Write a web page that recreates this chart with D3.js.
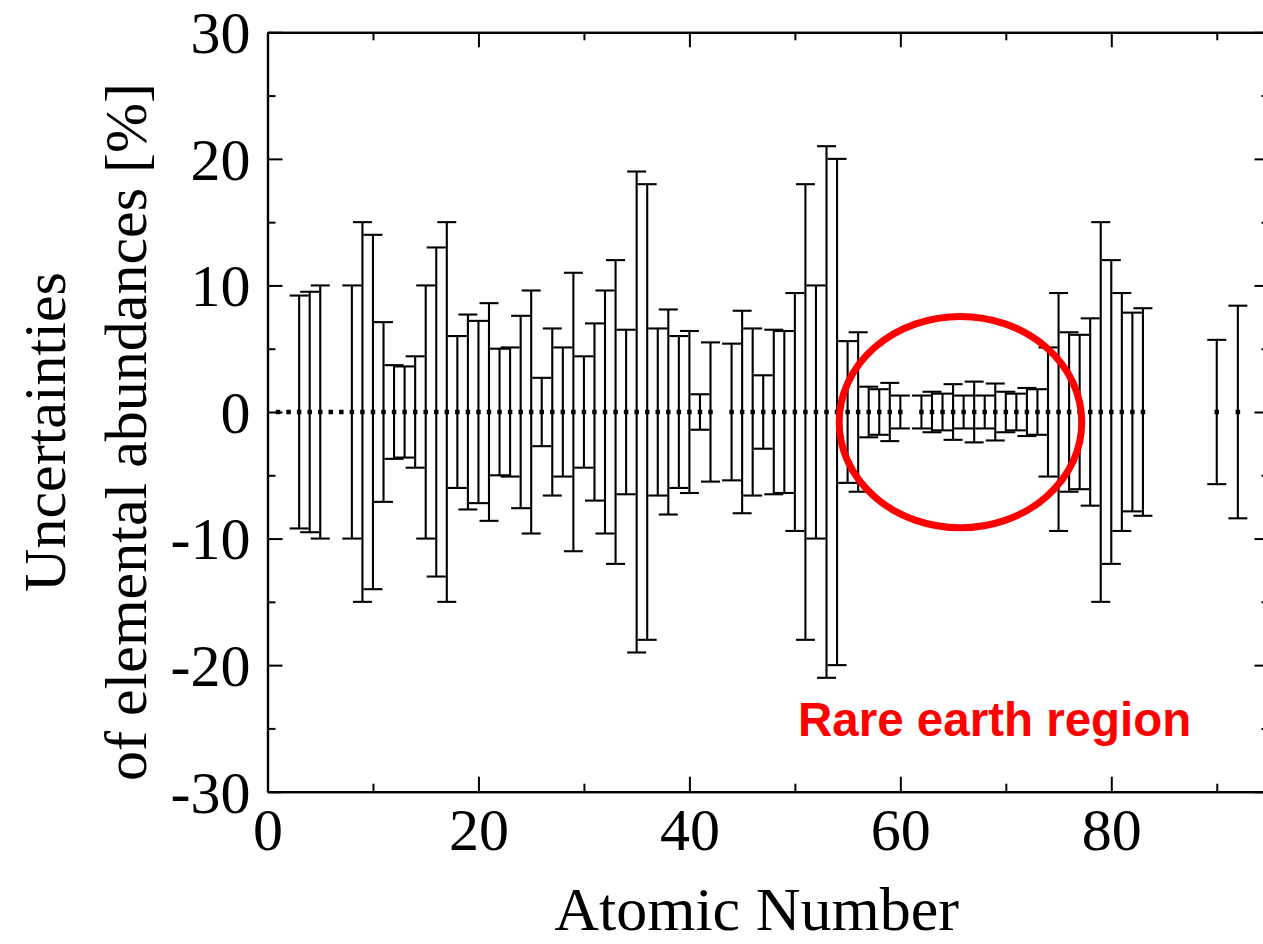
<!DOCTYPE html>
<html>
<head>
<meta charset="utf-8">
<script src="https://cdn.jsdelivr.net/npm/d3@7"></script>
<style>
  html, body { margin: 0; padding: 0; background: #fff; }
  svg { display: block; }
</style>
</head>
<body>
<svg id="chart" width="1263" height="944"></svg>
<script>
// ---- data ----
const atomicNumbers = [1,2,3,4,5,6,7,8,9,10,11,12,13,14,15,16,17,18,19,20,
  21,22,23,24,25,26,27,28,29,30,31,32,33,34,35,36,37,38,39,40,41,42,44,45,46,47,48,49,50,
  51,52,53,54,55,56,57,58,59,60,62,63,64,65,66,67,68,69,70,71,72,73,74,75,76,77,78,79,80,
  81,82,83,90,92];
const uncertainties = [0,0,9.2,9.5,10.0,0,0,10.0,15.0,14.0,7.1,3.7,3.6,4.4,10.0,13.0,15.0,6.0,7.7,7.2,
  8.6,5.0,5.1,7.6,9.6,2.7,6.6,5.1,11.0,4.4,7.0,9.6,12.0,6.5,19.0,18.0,6.6,8.1,6.0,6.4,1.4,5.5,5.4,8.0,6.6,2.9,6.5,6.4,9.4,
  18.0,10.0,21.0,20.0,5.6,6.3,2.0,1.8,2.3,1.3,1.3,1.6,1.45,2.2,1.3,2.4,1.3,2.25,1.6,1.45,1.9,1.8,5.1,9.4,6.3,6.1,7.4,15.0,12.0,
  9.4,7.85,8.2,5.7,8.4];
const xMajorTicks = [0,20,40,60,80];
const xMinorTicks = [10,30,50,70,90];
const yMajorTicks = [-30,-20,-10,0,10,20,30];
const yMinorTicks = [-25,-15,-5,5,15,25];
const xTitle = "Atomic Number";
const yTitleLines = ["Uncertainties", "of elemental abundances [%]"];
const annotationText = "Rare earth region";
// annotation ellipse in data units: centre Z, centre value, radius in Z, radius in %
const ellipseSpec = [65.7, -0.8, 11.5, 8.35];
const annotationPos = [50.3, -25.6];

const data = atomicNumbers.map((z, i) => ({ z, e: uncertainties[i] }));

// ---- layout ----
const svg = d3.select("#chart");
const x = d3.scaleLinear().domain([0, 95]).range([267.5, 1269.5]);
const y = d3.scaleLinear().domain([-30, 30]).range([791.7, 32.3]);
const serif = "'Liberation Serif', 'Times New Roman', serif";
const fmt = d => String(d).replace("\u2212", "-");

function styleAxis(g) {
  g.selectAll(".domain").attr("stroke", "#000").attr("stroke-width", 2.2);
  g.selectAll(".tick line").attr("stroke", "#000").attr("stroke-width", 2);
  g.selectAll("text").attr("font-family", serif).attr("font-size", 60).attr("fill", "#000");
}

// bottom
svg.append("g").attr("transform", `translate(0,${y(-30)})`)
  .call(d3.axisBottom(x).tickValues(xMajorTicks).tickSize(-15).tickSizeOuter(0).tickPadding(16).tickFormat(fmt))
  .call(styleAxis);
svg.append("g").attr("transform", `translate(0,${y(-30)})`)
  .call(d3.axisBottom(x).tickValues(xMinorTicks).tickSize(-8).tickSizeOuter(0).tickFormat(""))
  .call(styleAxis);
// top
svg.append("g").attr("transform", `translate(0,${y(30)})`)
  .call(d3.axisTop(x).tickValues(xMajorTicks).tickSize(-15).tickSizeOuter(0).tickFormat(""))
  .call(styleAxis);
svg.append("g").attr("transform", `translate(0,${y(30)})`)
  .call(d3.axisTop(x).tickValues(xMinorTicks).tickSize(-8).tickSizeOuter(0).tickFormat(""))
  .call(styleAxis);
// left
svg.append("g").attr("transform", `translate(${x(0)},0)`)
  .call(d3.axisLeft(y).tickValues(yMajorTicks).tickSize(-15).tickSizeOuter(0).tickPadding(17).tickFormat(fmt))
  .call(styleAxis)
  .call(g => g.selectAll("text").attr("dy", "0.34em"));
svg.append("g").attr("transform", `translate(${x(0)},0)`)
  .call(d3.axisLeft(y).tickValues(yMinorTicks).tickSize(-8).tickSizeOuter(0).tickFormat(""))
  .call(styleAxis);
// right
svg.append("g").attr("transform", `translate(${x(95)},0)`)
  .call(d3.axisRight(y).tickValues(yMajorTicks).tickSize(-15).tickSizeOuter(0).tickFormat(""))
  .call(styleAxis);
svg.append("g").attr("transform", `translate(${x(95)},0)`)
  .call(d3.axisRight(y).tickValues(yMinorTicks).tickSize(-8).tickSizeOuter(0).tickFormat(""))
  .call(styleAxis);

// ---- error bars ----
const capHalf = 9.5;
const bars = svg.append("g").attr("stroke", "#000").attr("stroke-width", 2.1).attr("fill", "none");
const withErr = data.filter(d => d.e > 0);
bars.selectAll("line.v").data(withErr).join("line").attr("class", "v")
  .attr("x1", d => x(d.z)).attr("x2", d => x(d.z))
  .attr("y1", d => y(d.e)).attr("y2", d => y(-d.e));
bars.selectAll("line.t").data(withErr).join("line").attr("class", "t")
  .attr("x1", d => x(d.z) - capHalf).attr("x2", d => x(d.z) + capHalf)
  .attr("y1", d => y(d.e)).attr("y2", d => y(d.e));
bars.selectAll("line.b").data(withErr).join("line").attr("class", "b")
  .attr("x1", d => x(d.z) - capHalf).attr("x2", d => x(d.z) + capHalf)
  .attr("y1", d => y(-d.e)).attr("y2", d => y(-d.e));

// ---- markers ----
const ms = 4.5;
svg.append("g").selectAll("rect").data(data).join("rect")
  .attr("x", d => x(d.z) - ms / 2).attr("y", y(0) - ms / 2)
  .attr("width", ms).attr("height", ms).attr("fill", "#000");

// ---- annotation ----
svg.append("ellipse")
  .attr("cx", x(ellipseSpec[0])).attr("cy", y(ellipseSpec[1]))
  .attr("rx", x(ellipseSpec[2]) - x(0)).attr("ry", y(0) - y(ellipseSpec[3]))
  .attr("fill", "none").attr("stroke", "#ff0000").attr("stroke-width", 7);
svg.append("text")
  .attr("x", x(annotationPos[0])).attr("y", y(annotationPos[1]))
  .attr("font-family", "'Liberation Sans', Arial, sans-serif")
  .attr("font-weight", "bold").attr("font-size", 47.5).attr("fill", "#ff0000")
  .text(annotationText);

// ---- titles ----
svg.append("text")
  .attr("x", (x(0) + x(95)) / 2 - 12).attr("y", 930)
  .attr("text-anchor", "middle")
  .attr("font-family", serif).attr("font-size", 62).attr("fill", "#000")
  .text(xTitle);
const yt = svg.append("g").attr("font-family", serif).attr("font-size", 60).attr("fill", "#000");
yt.append("text").attr("transform", "translate(65,432) rotate(-90)")
  .attr("text-anchor", "middle").text(yTitleLines[0]);
yt.append("text").attr("transform", "translate(146,432) rotate(-90)")
  .attr("text-anchor", "middle").text(yTitleLines[1]);
</script>
</body>
</html>
